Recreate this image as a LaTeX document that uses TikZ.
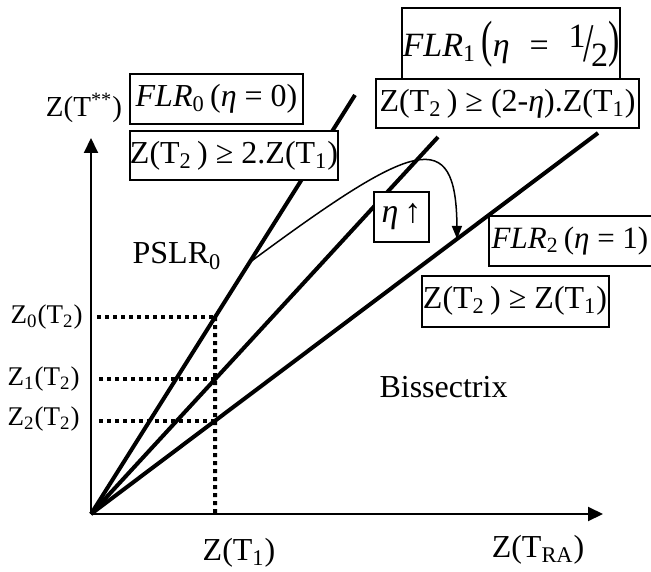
\documentclass[tikz,border=0pt]{standalone}
\usepackage{fontspec}
\usepackage{graphicx}
\setmainfont{Liberation Serif}
\usetikzlibrary{arrows.meta,calc}
\begin{document}
\begin{tikzpicture}[x=0.5pt,y=-0.5pt,
  axis/.style={line width=1pt,-{Triangle[length=7.5pt,width=7pt]}},
  ray/.style={line width=2pt},
  guide/.style={line width=2pt, dash pattern=on 2pt off 2pt},
  lbl/.style={inner sep=0pt, font=\fontsize{16}{18}\selectfont},
  ticklbl/.style={inner sep=0pt, font=\fontsize{13.5}{16}\selectfont, anchor=east},
  box/.style={draw, line width=1pt, fill=white, inner sep=0pt, font=\fontsize{16}{18}\selectfont},
  curvearrow/.style={line width=0.75pt,-{Triangle[length=6.5pt,width=5pt]}},
]
\useasboundingbox (0,0) rectangle (651,571);
% axes
\coordinate (O) at (91,514);
\coordinate (Ytop) at (91,138);
\coordinate (Xend) at (603,514);
\draw[axis] (O) -- (Ytop);
\draw[axis] (O) -- (Xend);
% rays
\coordinate (E0) at (355,95);
\coordinate (E1) at (438,137);
\coordinate (E2) at (598,133);
\draw[ray] (O) -- (E0);
\draw[ray] (O) -- (E1);
\draw[ray] (O) -- (E2);
% guides
\coordinate (Vt) at (215,250);
\coordinate (Vb) at (215,514);
\path (intersection of O--E0 and Vt--Vb) coordinate (P0);
\path (intersection of O--E1 and Vt--Vb) coordinate (P1);
\path (intersection of O--E2 and Vt--Vb) coordinate (P2);
\draw[guide] ([xshift=3pt]O |- P0) -- (P0);
\draw[guide] ([xshift=4pt]O |- P1) -- (P1);
\draw[guide] ([xshift=4pt]O |- P2) -- (P2);
\draw[guide] (P0) -- (Vb);
% curved arrow
\coordinate (C0) at ($(O)!0.6!(E0)$);
\coordinate (C1) at ($(O)!0.722!(E2)$);
\draw[curvearrow] (C0) .. controls (415,140) and (456,125) .. (C1);
% labels
\node[lbl] (zy) at (84,108) {\fontsize{14.5}{16}\selectfont Z(T\textsuperscript{**})};
\node[lbl] (pslr) at (177,256) {PSLR\textsubscript{0}};
\node[lbl] (biss) at (443.5,387) {Bissectrix};
\node[lbl] (zt1) at (239,553) {Z(T\textsubscript{1})};
\node[lbl] (ztra) at (538,550) {Z(T\textsubscript{RA})};
\node[ticklbl] (z0) at (83,317) {Z\textsubscript{0}(T\textsubscript{2})};
\node[ticklbl] (z1) at (80,379) {Z\textsubscript{1}(T\textsubscript{2})};
\node[ticklbl] (z2) at (80,419) {Z\textsubscript{2}(T\textsubscript{2})};
% boxes
\node[box, minimum width=86.5pt, minimum height=25pt] (b0t) at (216.5,99)
  {\textit{FLR}\textsubscript{0}\,(\textit{η} = 0)};
\node[box, minimum width=104pt, minimum height=24.5pt] (b0b) at (234,155.5)
  {Z(T\textsubscript{2}\,) ≥ 2.Z(T\textsubscript{1})};
\node[box, minimum width=109pt, minimum height=35.5pt, font=\fontsize{17}{20}\selectfont] (b1t) at (511,44)
  {\textit{FLR}\textsubscript{1}\,\scalebox{1}[1.5]{(}\textit{η}\,\, = \,\,\raisebox{4.5pt}{1}\kern-1pt\raisebox{-2.5pt}{\scalebox{1.1}[1.6]{/}}\kern-1.5pt\raisebox{-5pt}{2}\scalebox{1}[1.5]{)}};
\node[box, minimum width=131.5pt, minimum height=24.25pt] (b1b) at (507.5,103.5)
  {Z(T\textsubscript{2}\,) ≥ (2-\textit{η}).Z(T\textsubscript{1})};
\node[box, minimum width=27.5pt, minimum height=25pt, font=\fontsize{17}{20}\selectfont] (eta) at (401.5,217)
  {\textit{η}\,↑};
\node[box, minimum width=85pt, minimum height=25pt, font=\fontsize{15.5}{18}\selectfont] (b2t) at (574,241)
  {\textit{FLR}\textsubscript{2}\,(\textit{η} = 1)\kern4pt};
\node[box, minimum width=93.5pt, minimum height=25.5pt] (b2b) at (515,301)
  {Z(T\textsubscript{2}\,) ≥ Z(T\textsubscript{1})};
\end{tikzpicture}
\end{document}
